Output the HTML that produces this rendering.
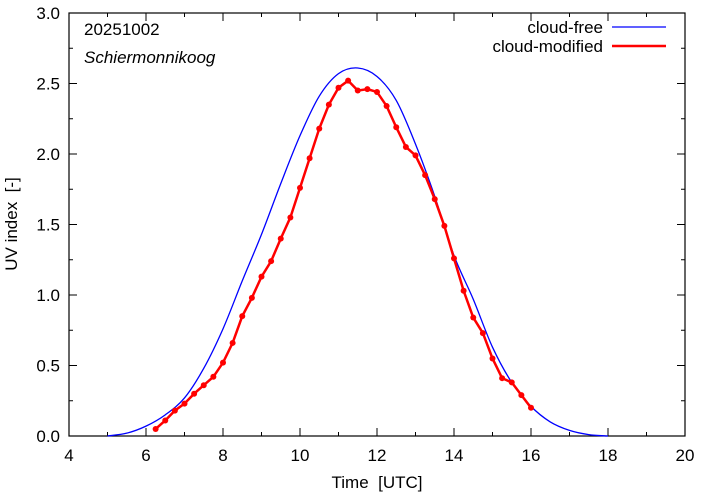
<!DOCTYPE html>
<html><head><meta charset="utf-8"><style>
body{margin:0;background:#fff}
svg text{font-family:"Liberation Sans",sans-serif;font-size:17px;fill:#000;white-space:pre}
</style></head><body>
<svg id="c" width="702" height="497"></svg>
<script>
const cfHours=[5,5.5,6,6.5,7,7.5,8,8.5,9,9.5,10,10.5,11,11.5,12,12.5,13,13.5,14,14.5,15,15.5,16,16.5,17,17.5,18];
const cfValues=[0,0.02,0.07,0.15,0.27,0.48,0.76,1.10,1.43,1.79,2.13,2.41,2.57,2.61,2.55,2.38,2.07,1.70,1.28,0.97,0.63,0.38,0.21,0.10,0.04,0.01,0];
const cmHours=[6.25,6.5,6.75,7,7.25,7.5,7.75,8,8.25,8.5,8.75,9,9.25,9.5,9.75,10,10.25,10.5,10.75,11,11.25,11.5,11.75,12,12.25,12.5,12.75,13,13.25,13.5,13.75,14,14.25,14.5,14.75,15,15.25,15.5,15.75,16];
const cmValues=[0.05,0.11,0.18,0.23,0.30,0.36,0.42,0.52,0.66,0.85,0.98,1.13,1.24,1.40,1.55,1.76,1.97,2.18,2.35,2.47,2.52,2.45,2.46,2.44,2.34,2.19,2.05,1.99,1.85,1.68,1.49,1.26,1.03,0.84,0.73,0.55,0.41,0.38,0.29,0.20];
const xTicks=[4,6,8,10,12,14,16,18,20];
const yTicks=[0,0.5,1,1.5,2,2.5,3];
const yLabels=["0.0","0.5","1.0","1.5","2.0","2.5","3.0"];
const L=69,R=685,T=13,B=436;
const X=v=>L+(v-4)/16*(R-L), Y=v=>B-v/3*(B-T);
const svg=document.getElementById('c'),NS='http://www.w3.org/2000/svg';
function el(t,a,txt){const e=document.createElementNS(NS,t);for(const k in a)e.setAttribute(k,a[k]);if(txt!==undefined)e.textContent=txt;svg.appendChild(e);return e;}
const frame=el('rect',{x:L,y:T,width:R-L,height:B-T,fill:'none',stroke:'#000','stroke-width':1.2});


xTicks.forEach((v,i)=>{const x=X(v);
 el('line',{x1:x,x2:x,y1:B,y2:B-8,stroke:'#000'});el('line',{x1:x,x2:x,y1:T,y2:T+8,stroke:'#000'});
 if(i<xTicks.length-1){const m=X(v+1);el('line',{x1:m,x2:m,y1:B,y2:B-4,stroke:'#000'});el('line',{x1:m,x2:m,y1:T,y2:T+4,stroke:'#000'});}
 const t=el('text',{x:x,y:B+25,'text-anchor':'middle'},String(v));
 
 
});
yTicks.forEach((v,i)=>{const y=Y(v);
 el('line',{x1:L,x2:L+8,y1:y,y2:y,stroke:'#000'});el('line',{x1:R,x2:R-8,y1:y,y2:y,stroke:'#000'});
 if(i<yTicks.length-1){const m=Y(v+0.25);el('line',{x1:L,x2:L+4,y1:m,y2:m,stroke:'#000'});el('line',{x1:R,x2:R-4,y1:m,y2:m,stroke:'#000'});}
 const t=el('text',{x:L-9,y:y+6,'text-anchor':'end'},yLabels[i]);
 
 
});
const xt=el('text',{x:377,y:488,'text-anchor':'middle'},'Time  [UTC]');


const yt=el('text',{x:0,y:0,'text-anchor':'middle',transform:'translate(17,224) rotate(-90)'},'UV index  [-]');


const d1=el('text',{x:84,y:35},'20251002');


const d2=el('text',{x:84,y:63,'font-style':'italic'},'Schiermonnikoog');


const P=cfHours.map((h,i)=>[X(h),Y(cfValues[i])]);
let d='M'+P[0][0]+','+P[0][1];
for(let i=0;i<P.length-1;i++){const p0=P[Math.max(i-1,0)],p1=P[i],p2=P[i+1],p3=P[Math.min(i+2,P.length-1)];
 d+=` C${p1[0]+(p2[0]-p0[0])/6},${p1[1]+(p2[1]-p0[1])/6} ${p2[0]-(p3[0]-p1[0])/6},${p2[1]-(p3[1]-p1[1])/6} ${p2[0]},${p2[1]}`;}
const cf=el('path',{d:d,fill:'none',stroke:'#0000ff','stroke-width':1.3});


const cm=el('polyline',{points:cmHours.map((h,i)=>X(h)+','+Y(cmValues[i])).join(' '),fill:'none',stroke:'#ff0000','stroke-width':2.5});


cmHours.forEach((h,i)=>{const c=el('circle',{cx:X(h),cy:Y(cmValues[i]),r:3,fill:'#ff0000'});
 
 
});
const l1=el('text',{x:603,y:33,'text-anchor':'end'},'cloud-free');


el('line',{x1:612,x2:666,y1:27,y2:27,stroke:'#0000ff','stroke-width':1.3});
const l2=el('text',{x:603,y:52,'text-anchor':'end'},'cloud-modified');


el('line',{x1:612,x2:666,y1:46,y2:46,stroke:'#ff0000','stroke-width':2.5});
</script>
</body></html>
